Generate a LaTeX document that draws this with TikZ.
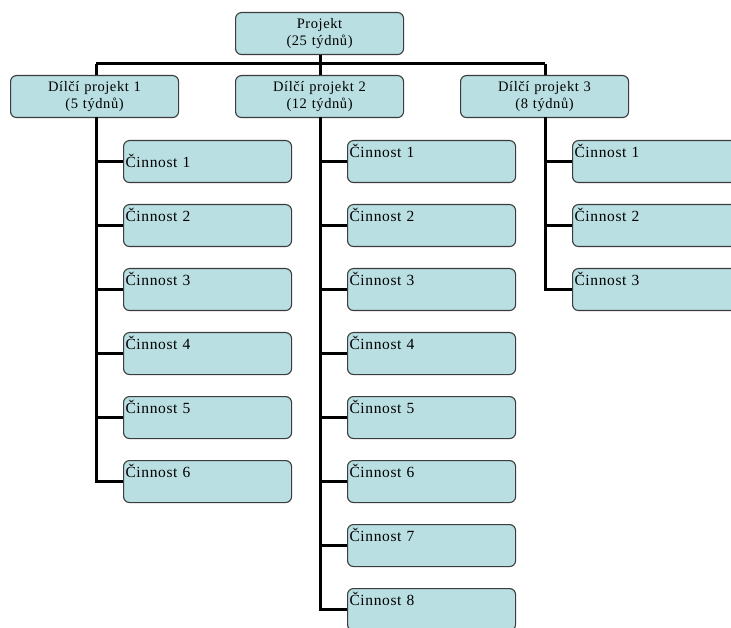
\documentclass[tikz,border=0pt]{standalone}
\usepackage{fontspec}
\setmainfont{Liberation Serif}[LetterSpace=4]
\definecolor{boxfill}{RGB}{185,223,226}
\definecolor{boxline}{RGB}{60,60,60}
\tikzset{
  x=1pt, y=-1pt,
  box/.style={draw=boxline, line width=1.1pt, fill=boxfill, rounded corners=6pt,
    minimum width=168pt, minimum height=42pt, anchor=north west, inner sep=0pt,
    font=\fontsize{14.5}{17.5}\selectfont},
  hdr/.style={box, align=center, text width=164pt},
  act/.style={box, align=left, text width=164pt, inner xsep=2pt, inner ysep=0pt,
    text height=17pt, text depth=25pt, font=\fontsize{15.5}{18}\selectfont},
  actmid/.style={act, text height=27pt, text depth=15pt},
  conn/.style={line width=3pt, black}
}
\begin{document}
\begin{tikzpicture}
\clip (0,0) rectangle (731,628);
\fill[white] (0,0) rectangle (731,628);
\node[hdr] (top) at (235,12) {Projekt\\(25 týdnů)};
\node[hdr] (s1) at (10,75) {Dílčí projekt 1\\(5 týdnů)};
\node[hdr] (s2) at (235,75) {Dílčí projekt 2\\(12 týdnů)};
\node[hdr] (s3) at (460,75) {Dílčí projekt 3\\(8 týdnů)};
\coordinate (bar) at (320,64);
\coordinate (b1) at (96,64);
\coordinate (b3) at (545,64);
\coordinate (v1) at (96,117);
\coordinate (v2) at (320,117);
\coordinate (v3) at (545,117);
% column 1
\node[actmid] (a1) at (123,140) {Činnost 1};
\node[act] (a2) at (123,204) {Činnost 2};
\node[act] (a3) at (123,268) {Činnost 3};
\node[act] (a4) at (123,332) {Činnost 4};
\node[act] (a5) at (123,396) {Činnost 5};
\node[act] (a6) at (123,460) {Činnost 6};
% column 2
\node[act] (b1n) at (347,140) {Činnost 1};
\node[act] (b2n) at (347,204) {Činnost 2};
\node[act] (b3n) at (347,268) {Činnost 3};
\node[act] (b4n) at (347,332) {Činnost 4};
\node[act] (b5n) at (347,396) {Činnost 5};
\node[act] (b6n) at (347,460) {Činnost 6};
\node[act] (b7n) at (347,524) {Činnost 7};
\node[act] (b8n) at (347,588) {Činnost 8};
% column 3
\node[act] (c1n) at (572,140) {Činnost 1};
\node[act] (c2n) at (572,204) {Činnost 2};
\node[act] (c3n) at (572,268) {Činnost 3};
% connectors
\draw[conn] (top.south -| bar) -- (bar);
\draw[conn] (b1) -- (b3);
\draw[conn] (b1) -- (b1 |- s1.north);
\draw[conn] (bar) -- (bar |- s2.north);
\draw[conn] (b3) -- (b3 |- s3.north);
\draw[conn] (v1) |- (a6.west);
\foreach \n in {a1,a2,a3,a4,a5} \draw[conn] (v1 |- \n.west) -- (\n.west);
\draw[conn] (v2) |- (b8n.west);
\foreach \n in {b1n,b2n,b3n,b4n,b5n,b6n,b7n} \draw[conn] (v2 |- \n.west) -- (\n.west);
\draw[conn] (v3) |- (c3n.west);
\foreach \n in {c1n,c2n} \draw[conn] (v3 |- \n.west) -- (\n.west);
\end{tikzpicture}
\end{document}
